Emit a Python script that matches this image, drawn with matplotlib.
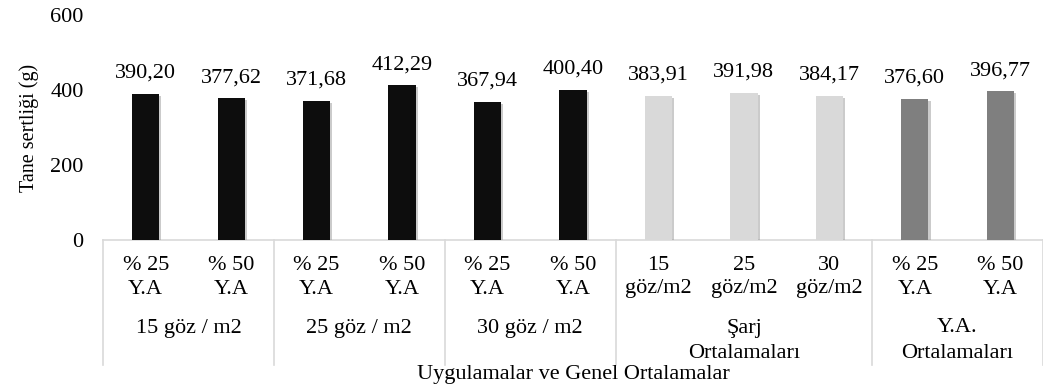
import matplotlib
matplotlib.use('Agg')
import matplotlib.pyplot as plt
import matplotlib.patheffects as pe

plt.rcParams['font.family'] = ['Liberation Serif', 'DejaVu Serif']

# ─── Data ──────────────────────────────────────────────────────
values = [390.20, 377.62, 371.68, 412.29, 367.94, 400.40,
          383.91, 391.98, 384.17, 376.60, 396.77]
tick_labels = ['% 25\nY.A', '% 50\nY.A', '% 25\nY.A', '% 50\nY.A', '% 25\nY.A', '% 50\nY.A',
               '15\ngöz/m2', '25\ngöz/m2', '30\ngöz/m2', '% 25\nY.A', '% 50\nY.A']
groups = ['15 göz / m2', '25 göz / m2', '30 göz / m2', 'Şarj\nOrtalamaları', 'Y.A.\nOrtalamaları']
group_sizes = [2, 2, 2, 3, 2]
group_colors = ['#0d0d0d', '#0d0d0d', '#0d0d0d', '#d9d9d9', '#7f7f7f']

colors = []
for c, n in zip(group_colors, group_sizes):
    colors += [c] * n

FS = 16

# ─── Figure ────────────────────────────────────────────────────
fig = plt.figure(figsize=(10.43, 3.92), dpi=100)
ax = fig.add_axes([103 / 1043, 152 / 392, 940 / 1043, 225 / 392])

x = list(range(len(values)))
bars = ax.bar(x, values, width=0.32, color=colors, zorder=3)
for b in bars:
    b.set_path_effects([pe.SimplePatchShadow(offset=(1.5, -1.5), shadow_rgbFace='#999999', alpha=0.5),
                        pe.Normal()])

for xi, v in zip(x, values):
    ax.annotate(f'{v:.2f}'.replace('.', ','), (xi, v), xytext=(0, 8),
                textcoords='offset points', ha='center', va='bottom', fontsize=FS)

ax.set_xlim(-0.5, len(values) - 0.5)
ax.set_ylim(0, 600)
ax.set_yticks([0, 200, 400, 600])
ax.tick_params(axis='y', length=0, labelsize=FS, pad=14)
ax.set_xticks([])
for s in ['top', 'right', 'left']:
    ax.spines[s].set_visible(False)
ax.spines['bottom'].set_color('#d9d9d9')
ax.spines['bottom'].set_linewidth(1.2)

ax.set_ylabel('Tane sertliği (g)', fontsize=14.5, labelpad=8)

def frac(ypix):
    return (240 - ypix) / 225

trans = ax.get_xaxis_transform()

# category labels (one text per line)
for xi, lab in zip(x, tick_labels):
    for k, line in enumerate(lab.split('\n')):
        ax.text(xi, frac(265 + 24 * k), line, transform=trans, ha='center',
                va='center', fontsize=FS)

# group labels and separators
start = 0
bounds = [-0.5]
for g, n in zip(groups, group_sizes):
    mid = start + (n - 1) / 2
    for k, line in enumerate(g.split('\n')):
        ax.text(mid, frac(328 + 25 * k), line, transform=trans, ha='center',
                va='center', fontsize=FS)
    start += n
    bounds.append(start - 0.5)

for bx in bounds:
    ax.plot([bx, bx], [0, frac(365)], transform=trans, color='#d9d9d9',
            lw=1.2, clip_on=False)

ax.text(0.5, frac(375), 'Uygulamalar ve Genel Ortalamalar', transform=ax.transAxes,
        ha='center', va='center', fontsize=FS)

fig.savefig('out.png', dpi=100)
